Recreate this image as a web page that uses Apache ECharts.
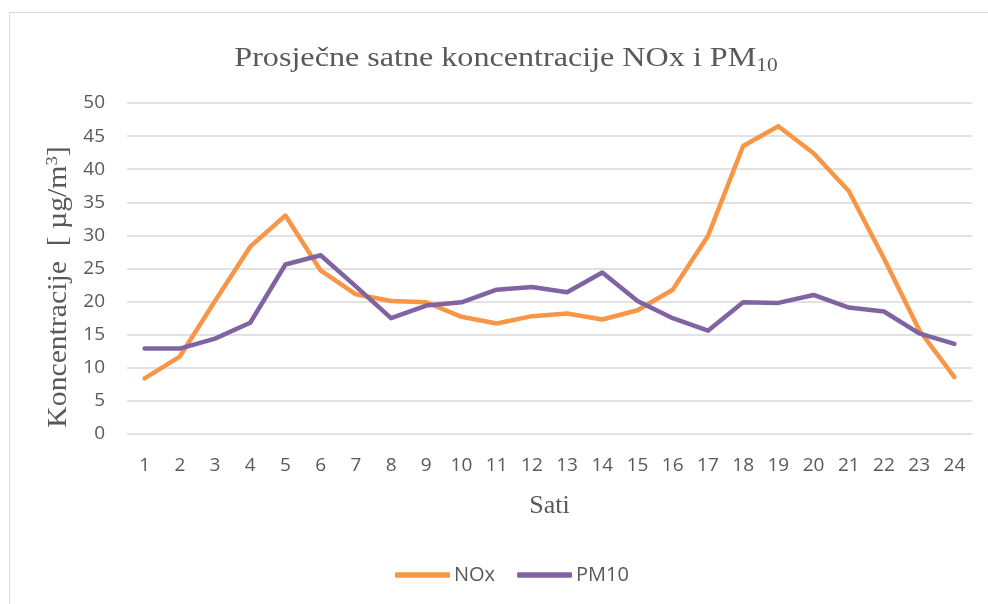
<!DOCTYPE html>
<html>
<head>
<meta charset="utf-8">
<script src="https://cdn.jsdelivr.net/npm/echarts@6/dist/echarts.min.js"></script>
<style>
html,body{margin:0;padding:0;background:#fff;}
#frame{position:absolute;left:9px;top:12px;width:1000px;height:620px;border:1px solid #d9d9d9;box-sizing:border-box;}
#chart{position:absolute;left:0;top:0;width:988px;height:604px;}
</style>
</head>
<body>
<div id="frame"></div>
<div id="chart"></div>
<script>
const hours = ['1','2','3','4','5','6','7','8','9','10','11','12','13','14','15','16','17','18','19','20','21','22','23','24'];
const noxValues = [8.4,11.7,20.1,28.3,33.0,24.7,21.1,20.1,19.9,17.7,16.7,17.8,18.2,17.3,18.7,21.8,29.9,43.5,46.5,42.4,36.7,26.5,15.7,8.6];
const pm10Values = [12.9,12.9,14.4,16.8,25.6,27.0,22.3,17.5,19.4,19.9,21.8,22.2,21.4,24.4,20.1,17.5,15.6,19.9,19.8,21.0,19.1,18.5,15.2,13.6];
const seriesNames = ['NOx','PM10'];
const seriesColors = ['#F79646','#8064A2'];
const textColor = '#595959';

const chart = echarts.init(document.getElementById('chart'));
chart.setOption({
  backgroundColor: 'transparent',
  animation: false,
  graphic: [
    {
      type: 'text', scaleX: 1.19,
      x: 506, y: 59,
      style: {
        text: '{t|Prosječne satne koncentracije NOx i PM}{s|10}',
        align: 'center', verticalAlign: 'middle',
        rich: {
          t: {fontFamily: 'Liberation Serif', fontSize: 27, fill: textColor},
          s: {fontFamily: 'Liberation Serif', fontSize: 18, fill: textColor, padding: [14,0,0,0]}
        }
      }
    },
    {
      type: 'text', x: 59, y: 287, rotation: Math.PI / 2, scaleX: 1.1,
      style: {
        text: '{a|Koncentracije  [ µg/m}{b|3}{a|]}',
        align: 'center', verticalAlign: 'middle',
        rich: {
          a: {fontFamily: 'Liberation Serif', fontSize: 27, fill: textColor},
          b: {fontFamily: 'Liberation Serif', fontSize: 17, fill: textColor, padding: [0,0,12,0]}
        }
      }
    }
  ],
  grid: {left: 127, right: 16, top: 103, bottom: 170, containLabel: false},
  legend: {
    data: seriesNames,
    top: 560, left: 390,
    itemWidth: 55, itemHeight: 5.5, itemGap: 22,
    icon: 'roundRect',
    textStyle: {fontFamily: 'Open Sans', fontSize: 20, color: textColor, padding: [0,0,0,-1]}
  },
  xAxis: {
    type: 'category', data: hours, boundaryGap: true,
    axisLine: {show: false}, axisTick: {show: false},
    axisLabel: {fontFamily: 'Open Sans', fontSize: 19, color: textColor, margin: 22},
    name: 'Sati', nameLocation: 'middle', nameGap: 59,
    nameTextStyle: {fontFamily: 'Liberation Serif', fontSize: 26, color: textColor}
  },
  yAxis: {
    type: 'value', min: 0, max: 50, interval: 5,
    axisLine: {show: false}, axisTick: {show: false},
    axisLabel: {fontFamily: 'Open Sans', fontSize: 19, color: textColor, margin: 22},
    splitLine: {lineStyle: {color: '#d9d9d9', width: 1.5}}
  },
  series: [
    {name: seriesNames[0], type: 'line', data: noxValues, symbol: 'none', color: seriesColors[0],
     lineStyle: {width: 4.5, color: seriesColors[0], cap: 'round', join: 'round'}},
    {name: seriesNames[1], type: 'line', data: pm10Values, symbol: 'none', color: seriesColors[1],
     lineStyle: {width: 4.5, color: seriesColors[1], cap: 'round', join: 'round'}}
  ]
});
</script>
</body>
</html>
